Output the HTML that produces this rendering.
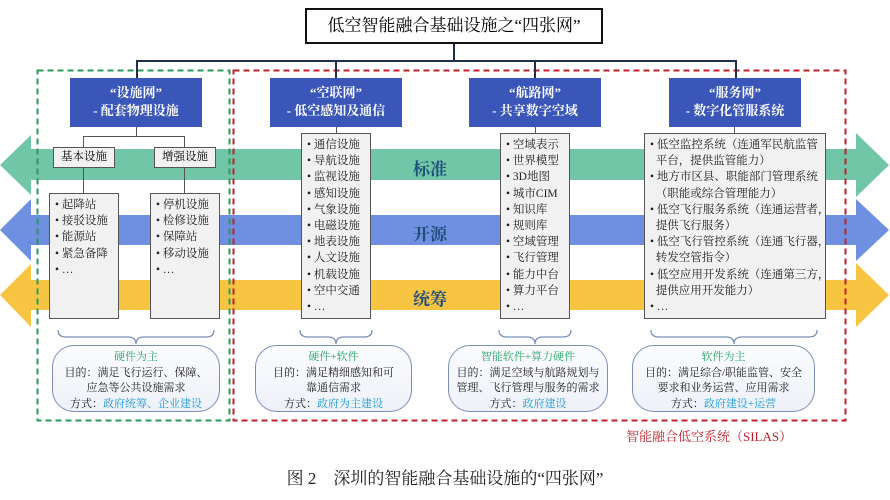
<!DOCTYPE html>
<html><head><meta charset="utf-8"><style>
body{margin:0;width:890px;height:500px;background:#fff;position:relative;overflow:hidden;font-family:"Liberation Serif","Noto Serif CJK SC",serif;}
.a{position:absolute;}
.blue{position:absolute;background:#3a56b8;color:#fff;font-weight:bold;font-size:13px;text-align:center;line-height:18px;padding-top:6px;box-sizing:border-box;height:49px;width:132px;top:78px;}
.list{position:absolute;background:#f1f1f1;border:1.5px solid #555;box-sizing:border-box;font-size:11.5px;line-height:16.2px;padding:3px 0 0 5px;color:#222;white-space:nowrap;}
.sub{position:absolute;background:#f1f1f1;border:1.5px solid #555;box-sizing:border-box;font-size:11.5px;text-align:center;line-height:18px;height:21px;top:147px;}
.pill{position:absolute;top:345px;height:67px;border:1.3px solid #7a8fb8;border-radius:22px;background:linear-gradient(#fbfcfe,#eef1f8);box-sizing:border-box;text-align:center;font-size:11px;line-height:15.5px;padding-top:4px;color:#222;}
.g{color:#2aa56a}.c{color:#1a9ad6}
.ln{position:absolute;background:#1f2d4e;}
.conn{position:absolute;background:#555;}
.lab{position:absolute;color:#1f4e79;font-weight:bold;font-size:17px;}
</style></head><body>
<svg class="a" style="left:0;top:0" width="890" height="500">
<g fill="#72c6a8"><rect x="28" y="149" width="830" height="31"/><polygon points="0,165 31,135 31,195"/><polygon points="889,165 856,133 856,197"/></g>
<g fill="#6f8fe0"><rect x="28" y="215" width="830" height="30"/><polygon points="0,230 31,199 31,261"/><polygon points="889,230 856,199 856,261"/></g>
<g fill="#f8c542"><rect x="28" y="280" width="830" height="30"/><polygon points="0,295 31,264 31,327"/><polygon points="889,295 856,263 856,327"/></g>
<rect x="37.5" y="70.5" width="192" height="350" fill="none" stroke="#2a9a5a" stroke-width="2" stroke-dasharray="6,4"/>
<rect x="233.5" y="70.5" width="612" height="350" fill="none" stroke="#c0202a" stroke-width="2" stroke-dasharray="6,4"/>
<g fill="none" stroke="#7a8fb8" stroke-width="1.3">
<path d="M58,330 q0,7 8,7 h62 q8,0 8,7 q0,-7 8,-7 h62 q8,0 8,-7"/>
<path d="M300,330 q0,7 8,7 h20 q8,0 8,7 q0,-7 8,-7 h20 q8,0 8,-7"/>
<path d="M499,330 q0,7 8,7 h20 q8,0 8,7 q0,-7 8,-7 h20 q8,0 8,-7"/>
<path d="M651,330 q0,7 8,7 h67 q8,0 8,7 q0,-7 8,-7 h67 q8,0 8,-7"/>
</g>
</svg>
<div class="a" style="left:305px;top:8px;width:298px;height:36px;border:2px solid #111;box-sizing:border-box;text-align:center;font-size:17px;line-height:32px;">低空智能融合基础设施之“四张网”</div>
<div class="ln" style="left:453px;top:44px;width:2px;height:17px"></div>
<div class="ln" style="left:136px;top:60px;width:601px;height:2px"></div>
<div class="ln" style="left:136px;top:60px;width:2px;height:18px"></div>
<div class="ln" style="left:335px;top:60px;width:2px;height:18px"></div>
<div class="ln" style="left:534px;top:60px;width:2px;height:18px"></div>
<div class="ln" style="left:735px;top:60px;width:2px;height:18px"></div>

<div class="blue" style="left:70px">“设施网”<br>- 配套物理设施</div>
<div class="blue" style="left:270px">“空联网”<br>- 低空感知及通信</div>
<div class="blue" style="left:469px">“航路网”<br>- 共享数字空域</div>
<div class="blue" style="left:669px">“服务网”<br>- 数字化管服系统</div>

<div class="conn" style="left:136px;top:127px;width:1px;height:9px"></div>
<div class="conn" style="left:83px;top:136px;width:102px;height:1px"></div>
<div class="conn" style="left:83px;top:136px;width:1px;height:11px"></div>
<div class="conn" style="left:184px;top:136px;width:1px;height:11px"></div>
<div class="conn" style="left:83px;top:168px;width:1px;height:25px"></div>
<div class="conn" style="left:184px;top:168px;width:1px;height:25px"></div>
<div class="conn" style="left:336px;top:127px;width:1px;height:6px"></div>
<div class="conn" style="left:535px;top:127px;width:1px;height:6px"></div>
<div class="conn" style="left:734px;top:127px;width:1px;height:6px"></div>

<div class="sub" style="left:53px;width:62px">基本设施</div>
<div class="sub" style="left:154px;width:62px">增强设施</div>

<div class="list" style="left:49px;top:193px;width:70px;height:126px">• 起降站<br>• 接驳设施<br>• 能源站<br>• 紧急备降<br>• …</div>
<div class="list" style="left:150px;top:193px;width:70px;height:126px">• 停机设施<br>• 检修设施<br>• 保障站<br>• 移动设施<br>• …</div>
<div class="list" style="left:301px;top:133px;width:70px;height:186px">• 通信设施<br>• 导航设施<br>• 监视设施<br>• 感知设施<br>• 气象设施<br>• 电磁设施<br>• 地表设施<br>• 人文设施<br>• 机载设施<br>• 空中交通<br>• …</div>
<div class="list" style="left:500px;top:133px;width:70px;height:186px">• 空域表示<br>• 世界模型<br>• 3D地图<br>• 城市CIM<br>• 知识库<br>• 规则库<br>• 空域管理<br>• 飞行管理<br>• 能力中台<br>• 算力平台<br>• …</div>
<div class="list" style="left:644px;top:133px;width:182px;height:186px">• 低空监控系统（连通军民航监管<br>&nbsp;&nbsp;平台，提供监管能力）<br>• 地方市区县、职能部门管理系统<br>&nbsp;&nbsp;（职能或综合管理能力）<br>• 低空飞行服务系统（连通运营者，<br>&nbsp;&nbsp;提供飞行服务）<br>• 低空飞行管控系统（连通飞行器，<br>&nbsp;&nbsp;转发空管指令）<br>• 低空应用开发系统（连通第三方，<br>&nbsp;&nbsp;提供应用开发能力）<br>• …</div>

<div class="lab" style="left:413px;top:155px">标准</div>
<div class="lab" style="left:413px;top:220px">开源</div>
<div class="lab" style="left:413px;top:285px">统筹</div>

<div class="pill" style="left:52px;width:168px"><span class="g">硬件为主</span><br>目的：满足飞行运行、保障、<br>应急等公共设施需求<br>方式：<span class="c">政府统筹、企业建设</span></div>
<div class="pill" style="left:255px;width:157px"><span class="g">硬件+软件</span><br>目的：满足精细感知和可<br>靠通信需求<br>方式：<span class="c">政府为主建设</span></div>
<div class="pill" style="left:448px;width:160px"><span class="g">智能软件+算力硬件</span><br>目的：满足空域与航路规划与<br>管理、飞行管理与服务的需求<br>方式：<span class="c">政府建设</span></div>
<div class="pill" style="left:632px;width:183px"><span class="g">软件为主</span><br>目的：满足综合/职能监管、安全<br>要求和业务运营、应用需求<br>方式：<span class="c">政府建设+运营</span></div>

<div class="a" style="left:626px;top:426px;color:#c0202a;font-size:13px">智能融合低空系统（SILAS）</div>
<div class="a" style="left:0;width:890px;top:464px;text-align:center;font-size:17px;color:#222">图 2　深圳的智能融合基础设施的“四张网”</div>
</body></html>
